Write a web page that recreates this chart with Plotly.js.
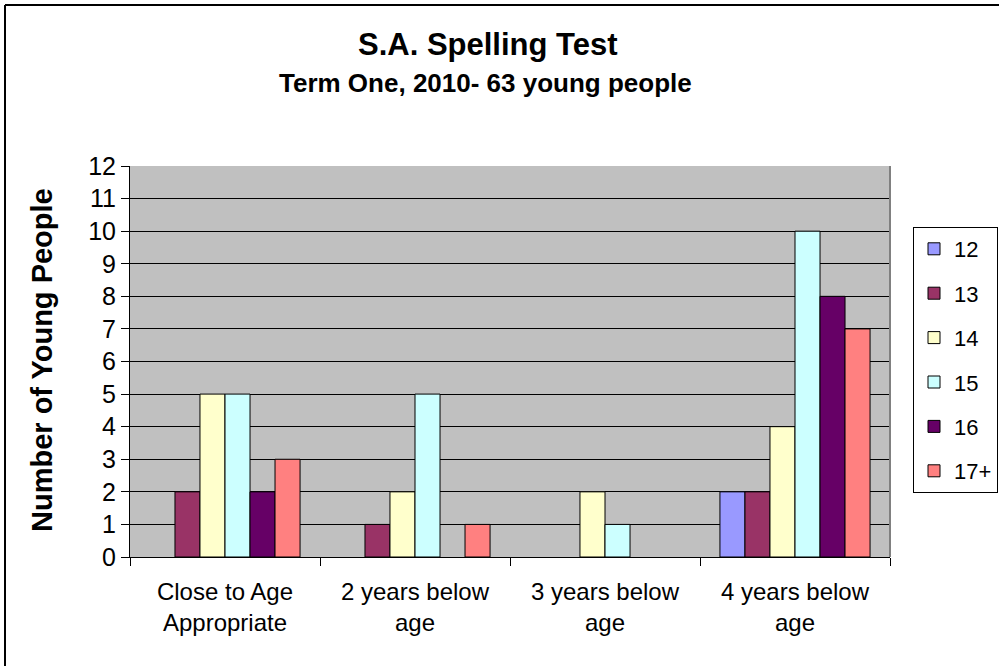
<!DOCTYPE html>
<html>
<head>
<meta charset="utf-8">
<script src="https://cdn.plot.ly/plotly-3.0.1.min.js"></script>
<style>html,body{margin:0;padding:0;background:#fff;}#chart{width:999px;height:666px;}</style>
</head>
<body>
<div id="chart"></div>
<script>
const categories = ["Close to Age<br>Appropriate", "2 years below<br>age", "3 years below<br>age", "4 years below<br>age"];
const seriesNames = ["12", "13", "14", "15", "16", "17+"];
const age12 = [0, 0, 0, 2];
const age13 = [2, 1, 0, 2];
const age14 = [5, 2, 2, 4];
const age15 = [5, 5, 1, 10];
const age16 = [2, 0, 0, 8];
const age17 = [3, 1, 0, 7];
const seriesValues = [age12, age13, age14, age15, age16, age17];
const colors = ["#9999FF", "#993366", "#FFFFCC", "#CCFFFF", "#660066", "#FF8080"];
const yTicks = [0,1,2,3,4,5,6,7,8,9,10,11,12];

const font = "Liberation Sans, Arial, sans-serif";
const traces = seriesNames.map((n, i) => ({
  type: "bar",
  name: n,
  x: categories,
  y: seriesValues[i].map(v => v === 0 ? null : v),
  legendgroup: "g" + i,
  marker: {color: colors[i], line: {color: "#000", width: 1}},
  hoverinfo: "x+y+name"
}));

const W = 760, H = 391, L = 130, T = 166;
const px = x => (x - L) / W;
const py = y => (T + H - y) / H;

const layout = {
  width: 999, height: 666,
  paper_bgcolor: "#fff",
  plot_bgcolor: "#C0C0C0",
  margin: {l: 130, r: 109, t: 166, b: 109},
  barmode: "group",
  bargap: 0.21,
  bargroupgap: 0,
  showlegend: true,
  legend: {
    xref: "container", yref: "container",
    x: 913/999, xanchor: "left", y: (666-227)/666, yanchor: "top",
    bgcolor: "#fff", bordercolor: "#000", borderwidth: 1,
    font: {family: font, size: 22, color: "#000"},
    tracegroupgap: 12.8,
    itemwidth: 30
  },
  xaxis: {
    type: "category",
    tickson: "boundaries",
    ticks: "outside", ticklen: 8, tickcolor: "#000",
    ticklabelstandoff: 13,
    showline: true, linecolor: "#000", linewidth: 1,
    showgrid: false,
    tickfont: {family: font, size: 24, color: "#000"},
    automargin: false
  },
  yaxis: {
    range: [0, 12],
    tickvals: yTicks,
    ticks: "outside", ticklen: 8, tickcolor: "#000",
    showline: true, linecolor: "#000", linewidth: 1,
    showgrid: true, gridcolor: "#000", gridwidth: 1,
    zeroline: false,
    tickfont: {family: font, size: 25, color: "#000"},
    automargin: false
  },
  annotations: [
    {text: "<b>S.A. Spelling Test</b>", xref: "paper", yref: "paper", x: px(488), y: py(45), xanchor: "center", yanchor: "middle", showarrow: false, font: {family: font, size: 31, color: "#000"}},
    {text: "<b>Term One, 2010- 63 young people</b>", xref: "paper", yref: "paper", x: px(485), y: py(83), xanchor: "center", yanchor: "middle", showarrow: false, font: {family: font, size: 26, color: "#000"}},
    {text: "<b>Number of Young People</b>", xref: "paper", yref: "paper", x: px(42), y: py(360), xanchor: "center", yanchor: "middle", textangle: -90, showarrow: false, font: {family: font, size: 29, color: "#000"}}
  ],
  shapes: [
    {type: "line", xref: "paper", yref: "paper", x0: px(5), x1: px(999), y0: py(5), y1: py(5), line: {color: "#000", width: 2}},
    {type: "line", xref: "paper", yref: "paper", x0: px(5), x1: px(5), y0: py(5), y1: py(666), line: {color: "#000", width: 2}},
    {type: "line", xref: "paper", yref: "paper", x0: 1, x1: 1, y0: 0, y1: 1, line: {color: "#808080", width: 2}}
  ]
};

Plotly.newPlot("chart", traces, layout, {displayModeBar: false, staticPlot: true});
</script>
</body>
</html>
